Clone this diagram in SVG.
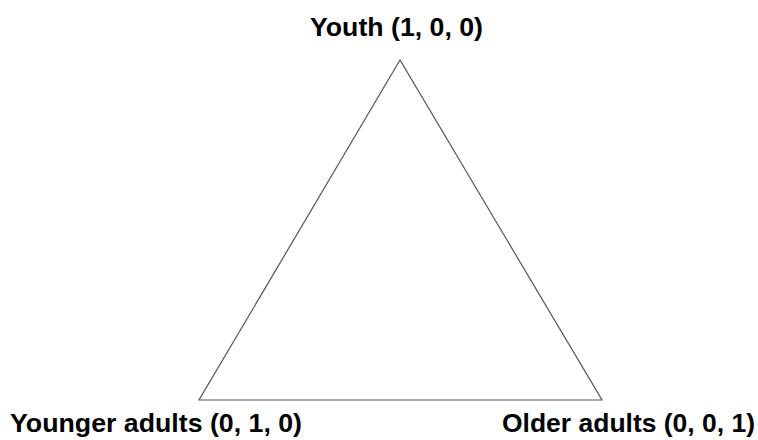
<svg xmlns="http://www.w3.org/2000/svg" width="758" height="440" viewBox="0 0 758 440">
<style>
.lbl{font-family:"Liberation Sans",Arial,sans-serif;font-weight:bold;font-size:25px;fill:#000}
.edge{fill:none;stroke:#555;stroke-width:1.2}
</style>
<rect width="758" height="440" fill="#fff"/>
<g id="connectors">
<polygon class="edge" points="400,60 199,400 602,400"/>
</g>
<g id="youth"><text class="lbl" x="310" y="36" textLength="173" lengthAdjust="spacingAndGlyphs">Youth (1, 0, 0)</text></g>
<g id="younger"><text class="lbl" x="10" y="432" textLength="292" lengthAdjust="spacingAndGlyphs">Younger adults (0, 1, 0)</text></g>
<g id="older"><text class="lbl" x="502" y="432" textLength="253" lengthAdjust="spacingAndGlyphs">Older adults (0, 0, 1)</text></g>
</svg>
